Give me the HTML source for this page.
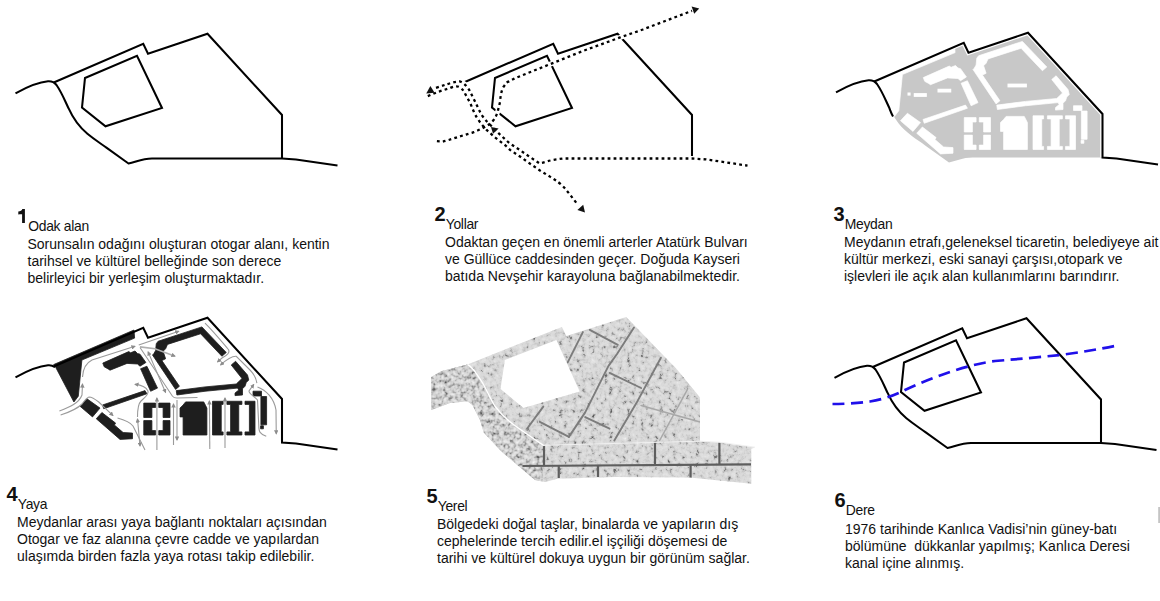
<!DOCTYPE html>
<html><head><meta charset="utf-8">
<style>
html,body{margin:0;padding:0;background:#fff;}
body{width:1160px;height:601px;position:relative;overflow:hidden;font-family:"Liberation Sans",sans-serif;color:#111;}
svg.main{position:absolute;left:0;top:0;}
.blk{position:absolute;white-space:nowrap;}
.num{position:absolute;font-weight:700;font-size:20px;line-height:20px;}
.ttl{position:absolute;font-size:13.9px;line-height:14px;letter-spacing:-0.3px;}
.body{position:absolute;font-size:14px;line-height:16.8px;}
</style></head><body>
<svg class="main" width="1160" height="601" viewBox="0 0 1160 601">
<defs>
  <marker id="ah" viewBox="0 0 10 10" refX="8" refY="5" markerWidth="4.5" markerHeight="4.5" markerUnits="userSpaceOnUse" orient="auto-start-reverse"><path d="M0,0 L10,5 L0,10 Z" fill="#8c8c8c"/></marker>

  <filter id="fpave" x="0" y="0" width="100%" height="100%" color-interpolation-filters="sRGB">
    <feTurbulence type="fractalNoise" baseFrequency="0.22" numOctaves="4" seed="3" result="n"/>
    <feColorMatrix in="n" type="matrix" values="1 0 0 0 0  1 0 0 0 0  1 0 0 0 0  0 0 0 0 1" result="m"/>
    <feComponentTransfer in="m" result="g">
      <feFuncR type="table" tableValues="0.25 0.45 0.78 0.85 0.87 0.9 0.95"/>
      <feFuncG type="table" tableValues="0.25 0.45 0.78 0.85 0.87 0.9 0.95"/>
      <feFuncB type="table" tableValues="0.25 0.45 0.78 0.85 0.87 0.9 0.95"/>
    </feComponentTransfer>
    <feComposite in="g" in2="SourceAlpha" operator="in"/>
  </filter>
  <filter id="frock" x="0" y="0" width="100%" height="100%" color-interpolation-filters="sRGB">
    <feTurbulence type="fractalNoise" baseFrequency="0.25" numOctaves="4" seed="8" result="n"/>
    <feColorMatrix in="n" type="matrix" values="1 0 0 0 0  1 0 0 0 0  1 0 0 0 0  0 0 0 0 1" result="m"/>
    <feComponentTransfer in="m" result="g">
      <feFuncR type="table" tableValues="0.2 0.38 0.66 0.82 0.88 0.93 1"/>
      <feFuncG type="table" tableValues="0.2 0.38 0.66 0.82 0.88 0.93 1"/>
      <feFuncB type="table" tableValues="0.2 0.38 0.66 0.82 0.88 0.93 1"/>
    </feComponentTransfer>
    <feComposite in="g" in2="SourceAlpha" operator="in"/>
  </filter>
  <path id="p5" d="M431.25,377 L441.25,371.25 L467.5,364.4 L561.9,326.9 L566.4,336 L626.25,316.9 L677.5,370 L700,397.5 L700,441.25 L720,442.5 L755,447.5 L751.25,448.75 L751.25,483.75 L690,477.5 L615,476.9 L557.5,478.75 L545,481.9 L535,480 L501.25,451.25 L483.75,432.5 L480,420 L472.5,405 L467.5,401.25 L450,403.1 L431.25,410 Z"/>
  <clipPath id="c5"><use href="#p5"/></clipPath>

  <path id="site" d="M53.75,82.5 L143.25,43.75 L148,53.75 L207.5,33.75 L282,115 L282,158.5 L152,158.5 C142,158.5 136,162 128.5,163.5 L106.4,147.7 C100,143 95,140 87.4,133.8 C78,126 72,116 68.5,108.2 C65,101 62,93 56.5,85 Z"/>
  <g id="bld">
    <path d="M53.6,364.6 L134,330 L134.6,338.1 L81.9,360 L78.3,396.2 L73.9,402 L55,366 Z"/>
    <path d="M102.8,363.1 L128.75,351.6 L130.6,352.8 L135,351 L137.5,353.5 L140,354.2 L145.9,362.5 L140,366.2 L137.5,364 L127,363.4 L110,370.2 L108.1,368.9 L104.2,366.8 Z"/>
    <path d="M140.6,368.75 L146.9,366.25 L157.5,388.1 L150.6,391.25 Z"/>
    <path d="M102.5,405 L145,390.6 L146.9,393.75 L103.75,408.75 Z"/>
    <path d="M80,406.25 L86.9,398.75 L100,408.1 L92.5,416.9 Z"/>
    <path d="M96.25,418.75 L101.9,412.5 L115.6,423.1 L114.4,425 L123.1,432.5 L132.5,433.1 L132.5,438.75 L120,439.4 Z"/>
    <path d="M156.25,343.75 L158.1,341.25 L201.9,326.9 L226.25,352.5 L221.9,356.25 L200.6,333.75 L167.5,344.4 L165.6,348.75 L163.1,351.25 L165.6,358.75 L161.9,360.6 L179.4,386.25 L175.6,389.4 L152.5,355 L153.75,353.75 L155.6,350.6 Z"/>
    <path d="M231.25,365 L235.6,361.25 L247.5,375 L248.75,380 L246.25,382.5 L245,386.25 L242.5,388.75 L242.5,395 L235,395.6 L235,393.1 L238.75,390 L237.5,388.1 L205,391.25 L176.9,395 L176.25,390.6 L205,386.9 L236.25,384 L242,378.5 Z"/>
    <path d="M143.75,403.1 H155.6 V407.5 H151.9 V417.5 H143.75 Z M143.75,420.6 H151.9 V430.6 H155.6 V435 H143.75 Z M158.75,403.1 H170 V417.5 H163.1 V407.5 H158.75 Z M163.1,420.6 H170 V435 H158.75 V430.6 H163.1 Z"/>
    <path d="M185.6,401.9 L203.75,401.9 L206.9,408.1 L206.9,435 L183.1,435 L183.1,416.9 L180,416.9 L180,408.1 L183.1,405 Z"/>
    <path d="M212.5,401.25 H223.1 V404.4 H221.25 V431.9 H223.1 V435 H212.5 Z M226.9,401.25 H241.9 V404.4 H238.75 V431.9 H241.9 V435 H226.9 V431.9 H230.6 V404.4 H226.9 Z M245,401.25 H255 V435 H245 V431.9 H249.4 V404.4 H245 Z"/>
    <path d="M253,391.2 H261.5 V396 H253 Z M260.9,396.5 H266.6 V424.8 H260.9 Z M260.6,425.8 H263.4 V428.8 H260.6 Z"/>
  </g>

  <g id="curve"><path d="M15.5,93.3 C27,87 40,82 48,81.3 C52,81 54.5,82.5 56.5,85 C62,93 65,101 68.5,108.2 C72,116 78,126 87.4,133.8 C95,140 100,143 106.4,147.7 L128.5,163.5 C136,162 142,158.5 152,158.5 L282,158.5 L296,159.4 L337.5,165.6"/></g>
  <g id="top"><path d="M53.75,82.5 L143.25,43.75 L148,53.75 L207.5,33.75 L282,115 L282,158.5"/></g>
  <g id="inner"><path d="M85,78 L137,55.75 L162,108 L105.5,126.25 L82,107.5 Z"/></g>
</defs>
<g fill="none" stroke="#000" stroke-width="2.05" stroke-linejoin="miter">
  <!-- panel 1 -->
  <use href="#curve"/><use href="#top"/><use href="#inner"/>
  <!-- panel 2 -->
  <g transform="translate(410,0)"><use href="#top"/><use href="#inner"/></g>
  <!-- panel 6 -->
  <g transform="translate(819,284.5)"><use href="#curve"/><use href="#top"/><use href="#inner"/></g>
</g>

<g fill="none" stroke="#fff" stroke-width="5">
<path d="M436,87.9 C445,85 452,82 459.4,81.4 C463,82 467,86 469.3,90.1 L474.5,100.5 L479.7,111.3 C482,116 486,121 491.8,126.4 L499.6,134.2 L509.1,142.9 L519.5,149.8 L529,156.4 L539.4,163.3 C543,163 550,160 556.7,159.4 L562.8,158.5 L692,158.5 L706,159.4 L747.5,165.6"/>
  <path d="M427.8,96.1 L438.2,91.8 L450.3,87.9 C454,86 458,85.5 460.7,87.9 C463,90 464,91 465,93.5 L470.2,103 L474.5,113.4 C476,116 477,118 478.8,120.4 C481,124 484,127 486.6,129.9 L495.3,137.7 L505.6,145.5 L510,149.9 L520.4,156.8 L530.8,164.2 L540.3,170.7 L550.7,177.1 L556.5,180.9 C559,182.5 563,186 565.5,189.1 L569.2,193.6 L573,198.5 L578,205"/>
  <path d="M436.9,141.1 L442.5,141.6 C450,140 460,136 471.9,132.9 C478,130.5 484,127.7 489.2,124.3 C493,121.5 496,118 497.9,110.8 L500,102.2 C500.5,95 502,88 504.3,85.8 C506,83 507,82 509.1,81.4 L515,78.2 L549,64.6 L582.9,51 L620.2,37.4 L642.9,29.5 L692,10.8"/>
</g>
<!-- panel 2 dotted -->
<g fill="none" stroke="#000" stroke-width="2.3" stroke-dasharray="2.8 3.2">
  <path d="M436,87.9 C445,85 452,82 459.4,81.4 C463,82 467,86 469.3,90.1 L474.5,100.5 L479.7,111.3 C482,116 486,121 491.8,126.4 L499.6,134.2 L509.1,142.9 L519.5,149.8 L529,156.4 L539.4,163.3 C543,163 550,160 556.7,159.4 L562.8,158.5 L692,158.5 L706,159.4 L747.5,165.6"/>
  <path d="M427.8,96.1 L438.2,91.8 L450.3,87.9 C454,86 458,85.5 460.7,87.9 C463,90 464,91 465,93.5 L470.2,103 L474.5,113.4 C476,116 477,118 478.8,120.4 C481,124 484,127 486.6,129.9 L495.3,137.7 L505.6,145.5 L510,149.9 L520.4,156.8 L530.8,164.2 L540.3,170.7 L550.7,177.1 L556.5,180.9 C559,182.5 563,186 565.5,189.1 L569.2,193.6 L573,198.5 L578,205"/>
  <path d="M436.9,141.1 L442.5,141.6 C450,140 460,136 471.9,132.9 C478,130.5 484,127.7 489.2,124.3 C493,121.5 496,118 497.9,110.8 L500,102.2 C500.5,95 502,88 504.3,85.8 C506,83 507,82 509.1,81.4 L515,78.2 L549,64.6 L582.9,51 L620.2,37.4 L642.9,29.5 L692,10.8"/>
</g>
<g fill="#111">
  <path d="M430.4,86 L426.2,93.4 L434.6,92.8 Z"/>
  <path d="M491,127 L498.6,128.4 L493,133.8 Z"/>
  <path d="M577.4,209.9 L583.2,204.8 L585,212.4 Z"/>
  <path d="M699.2,8.6 L691.6,6.6 L694.2,13.8 Z"/>
</g>

<!-- panel 3 -->
<g transform="translate(820.5,-1)"><use href="#site" fill="#c8c8c8"/></g>
<g transform="translate(820.5,-285.5)" fill="#fff" stroke="#fff" stroke-width="0.7" stroke-linejoin="round"><use href="#bld"/></g>
<g fill="#fff">
  <rect x="907.5" y="92.5" width="3.1" height="3.1"/>
  <rect x="913.75" y="93.1" width="13.1" height="3.8"/>
  <rect x="937.5" y="88.75" width="13.75" height="3.75"/>
  <rect x="1007.5" y="83.6" width="19.4" height="3.8"/>
</g>
<path transform="translate(820.5,-1)" d="M53.75,82.5 L143.25,43.75 L148,53.75 L207.5,33.75 L282,115 L282,158.5" fill="none" stroke="#fff" stroke-width="4.6"/>
<g transform="translate(820.5,-1)" fill="none" stroke="#000" stroke-width="2.05">
  <path d="M15.5,93.3 C27,87 40,82 48,81.3 C52,81 54.5,82.5 56.5,85 C62,93 65,101 68.5,108.2 C70,112 71,115 72.5,117.5"/>
  <path d="M53.75,82.5 L143.25,43.75 L148,53.75 L207.5,33.75 L282,115 L282,158.5 L296,159.4 L337.5,165.6"/>
</g>
<!-- panel 4 -->
<g fill="#1e1e1e" stroke="#1e1e1e" stroke-width="0.8" stroke-linejoin="round"><use href="#bld"/></g>
<g transform="translate(0,284)" fill="none" stroke="#000" stroke-width="2.05">
  <path d="M15.5,93.3 C27,87 40,82 48,81.3 C51,81 53,81.8 55,83"/>
  <path d="M53.75,82.5 L143.25,43.75 L148,53.75 L207.5,33.75 L282,115 L282,158.5 L296,159.4 L337.5,165.6"/>
</g>

<!-- panel 5 -->
<g clip-path="url(#c5)">
  <rect x="425" y="310" width="335" height="180" fill="#000" filter="url(#fpave)"/>
  <path d="M425,370 L468,362 L474,370 L484,385 L495,406 L512,424 L543,445.6 L543,490 L420,490 Z" fill="#000" filter="url(#frock)"/>
  
  <g fill="none" stroke="#7c7c7c" stroke-width="1.9" stroke-linecap="round" stroke-linejoin="round">
    <path d="M582.9,332.1 L567.7,362.4"/>
    <path d="M634,327.5 L617,354 L608.5,365.9 L585.2,412.4 L568.9,436.9"/>
    <path d="M660.9,357.7 L636.4,403.1 L614.3,440.4"/>
    <path d="M543.3,406.6 L527,428.7"/>
    <path d="M589.8,329.8 L617.8,344.9"/>
    <path d="M609.6,372.9 L641.1,388"/>
    <path d="M585.2,417.1 L609.6,428.7"/>
    <path d="M539.8,421.8 L568.9,436.9"/>
  </g>
  <g fill="none" stroke="#a8a8a8" stroke-width="1.4" stroke-linecap="round">
    <path d="M687.6,389.2 L659.7,440.4"/>
    <path d="M641,405.5 L700,422"/>
  </g>
  <g fill="none" stroke="#5e5e5e" stroke-width="2.2">
    <path d="M522.5,466 L751,464.4"/><path d="M544,446 L544,465"/>
    <path d="M655,442 L655,465"/><path d="M719.4,442 L719.4,465"/>
    <path d="M558.75,466 L558.75,478"/><path d="M598,466 L598,477"/><path d="M690.6,465 L690.6,478"/>
  </g>
</g>
<path d="M504.9,359.9 L556.4,340 L579.7,391.5 L523.5,408 L500.5,389 Z" fill="#fff"/>
<path d="M467.5,364.4 C470,366 472,368 473.75,370 C478,376 481,380 483.75,385 C488,393 491,400 495,406.25 C500,413 506,419 512.5,423.75 C522,431 533,438 543.75,445.6" fill="none" stroke="#fff" stroke-width="1.3"/>
<path d="M543.75,445.3 L700,441.2 L720,442.3 L755,447.2" fill="none" stroke="#f0f0f0" stroke-width="1"/>

<!-- panel 6 blue -->
<path d="M832.5,404 C845,404 860,403 870,401.5 C885,399 895,395 905,390 C920,383 935,377 950,372 C965,367 980,363 995,361 C1020,359 1040,357 1060,355 C1080,352.5 1100,349 1114.5,346" fill="none" stroke="#2010ea" stroke-width="2.7" stroke-dasharray="12 6.5"/>
<!-- panel 4 gray arrows -->
<g fill="none" stroke="#9a9a9a" stroke-width="1.1">
  <path d="M59.4,411 C70,407 79,403 82,395 L82.5,384" marker-end="url(#ah)"/>
  <path d="M82.5,377 C83,368 86,363 92,360 L135,346.3" marker-end="url(#ah)"/>
  <path d="M60.6,415 C70,412 77,409 82,404 C85,400 87,397.5 89,397 C92,397 95,399 98.75,402 L113,415.6" marker-end="url(#ah)"/>
  <path d="M138.75,345 L178.75,331.25" marker-end="url(#ah)"/>
  <path d="M140,346.9 L155,348.75 L175,356.25" marker-end="url(#ah)" stroke-width="1.6" stroke="#b0b0b0"/>
  <path d="M140,347.5 L172.5,396.25 C174,398 175,398 177,398 L197.5,397.5"/>
  <path d="M148.1,351.9 L165.6,392.5" marker-start="url(#ah)" marker-end="url(#ah)"/>
  <path d="M135,384.4 C142,385 146,387 148,391 C149,395 144,398 141,401 C138,404 137.5,410 137.5,417" marker-start="url(#ah)"/>
  <path d="M137.5,419 L140,446" marker-start="url(#ah)" marker-end="url(#ah)"/>
  <path d="M117.5,418 C125,420 130,422 133,426 L145,450"/>
  <path d="M156.9,450 L156.9,398" marker-end="url(#ah)"/>
  <path d="M173.5,445 L173.5,404" marker-end="url(#ah)"/>
  <path d="M177,400 L177,440" marker-end="url(#ah)"/>
  <path d="M209.8,449 L209.4,401" marker-end="url(#ah)"/>
  <path d="M225,448 L225,398" marker-end="url(#ah)"/>
  <path d="M257.5,386.9 C266,390 274,398 276,410 L276.25,433.75" marker-end="url(#ah)"/>
  <path d="M266.25,436.25 C260,434 258.75,432 258.75,425 L257.5,400 C254,396 249,394 249,391 L253.75,384.4" marker-end="url(#ah)"/>
  <path d="M205,323.1 C215,333 222,342 228.75,350 C230,353 226,356 222,358 L217.5,361.9" marker-end="url(#ah)"/>
  <path d="M256.9,383.1 C256,377 252,372 250,370 L236.25,356.25 C232,356 226,360 220.6,365" marker-end="url(#ah)"/>
</g>
<rect x="1158.2" y="507" width="1.8" height="16" fill="#c4c4c4"/>
</svg>

<svg style="position:absolute;left:0;top:0" width="40" height="240"><path d="M22.1,209 L24.9,209 L24.9,223 L22.1,223 Z M18.3,211.4 C20.5,211.3 21.8,210.6 22.5,209 L23.5,209 L23.5,213.6 C22,214.2 20.5,214.4 18.3,214.4 Z" fill="#111"/></svg>
<div class="ttl blk" style="left:28.25px;top:219.2px">Odak alan</div>
<div class="body blk" style="left:27.5px;top:236.4px">Sorunsalın odağını oluşturan otogar alanı, kentin<br>tarihsel ve kültürel belleğinde son derece<br>belirleyici bir yerleşim oluşturmaktadır.</div>

<div class="num" style="left:434.5px;top:204.35px">2</div>
<div class="ttl blk" style="left:445.75px;top:217.2px">Yollar</div>
<div class="body blk" style="left:445px;top:234.4px">Odaktan geçen en önemli arterler Atatürk Bulvarı<br>ve Güllüce caddesinden geçer. Doğuda Kayseri<br>batıda Nevşehir karayoluna bağlanabilmektedir.</div>

<div class="num" style="left:833.5px;top:204.35px">3</div>
<div class="ttl blk" style="left:844.75px;top:217.2px">Meydan</div>
<div class="body blk" style="left:844px;top:234.4px">Meydanın etrafı,geleneksel ticaretin, belediyeye ait<br>kültür merkezi, eski sanayi çarşısı,otopark ve<br>işlevleri ile açık alan kullanımlarını barındırır.</div>

<div class="num" style="left:6.5px;top:484.35px">4</div>
<div class="ttl blk" style="left:17.75px;top:497.2px">Yaya</div>
<div class="body blk" style="left:17px;top:514.4px">Meydanlar arası yaya bağlantı noktaları açısından<br>Otogar ve faz alanına çevre cadde ve yapılardan<br>ulaşımda birden fazla yaya rotası takip edilebilir.</div>

<div class="num" style="left:426.5px;top:486.35px">5</div>
<div class="ttl blk" style="left:437.75px;top:499.2px">Yerel</div>
<div class="body blk" style="left:437px;top:516.4px">Bölgedeki doğal taşlar, binalarda ve yapıların dış<br>cephelerinde tercih edilir.el işçiliği döşemesi de<br>tarihi ve kültürel dokuya uygun bir görünüm sağlar.</div>

<div class="num" style="left:834.5px;top:490.35px">6</div>
<div class="ttl blk" style="left:845.75px;top:503.2px">Dere</div>
<div class="body blk" style="left:845px;top:521.4px">1976 tarihinde Kanlıca Vadisi’nin güney-batı<br>bölümüne&nbsp; dükkanlar yapılmış; Kanlıca Deresi<br>kanal içine alınmış.</div>
</body></html>
